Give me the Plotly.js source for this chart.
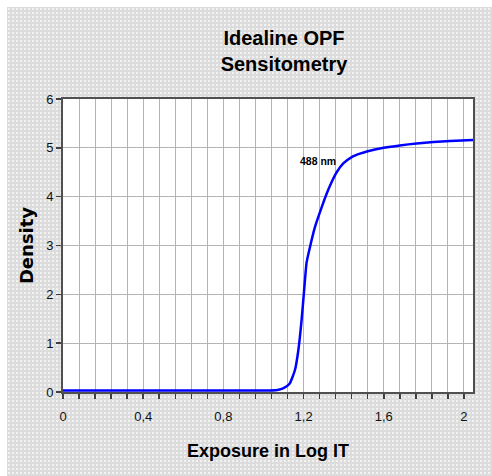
<!DOCTYPE html>
<html>
<head>
<meta charset="utf-8">
<script src="https://cdn.plot.ly/plotly-3.0.1.min.js"></script>
<style>
  html, body { margin:0; padding:0; background:#ffffff; }
  #wrap { position:relative; width:492px; height:476px; }
  #bg { position:absolute; left:7px; top:7px; right:0; bottom:0;
        background-color:#dcdcdc;
        background-image: radial-gradient(#f2f2f2 0.8px, transparent 0.9px);
        background-size:4px 4px; }
  #chart { position:absolute; left:0; top:0; width:492px; height:476px; }
</style>
</head>
<body>
<div id="wrap"><div id="bg"></div><div id="chart"></div></div>
<script>
// Data
const exposure = [0, 0.4, 0.8, 1.0, 1.06, 1.08, 1.10, 1.13, 1.157, 1.174, 1.19, 1.202, 1.215, 1.232, 1.257, 1.29, 1.315, 1.34, 1.365, 1.398, 1.44, 1.481, 1.52, 1.60, 1.68, 1.764, 1.847, 1.93, 2.045];
const density  = [0.03, 0.03, 0.03, 0.03, 0.035, 0.05, 0.08, 0.17, 0.45, 0.86, 1.47, 2.05, 2.65, 2.97, 3.38, 3.78, 4.06, 4.30, 4.50, 4.68, 4.81, 4.88, 4.93, 5.00, 5.05, 5.09, 5.12, 5.14, 5.16];
const seriesLabel = "488 nm";
const titleLines = ["Idealine OPF", "Sensitometry"];
const xTitle = "Exposure in Log IT";
const yTitle = "Density";

const sans = "Liberation Sans, Arial, sans-serif";

const trace = {
  x: exposure, y: density, type: "scatter", mode: "lines",
  line: { color: "#0000ff", width: 2.5, shape: "spline", smoothing: 0.5 },
  hoverinfo: "skip", showlegend: false
};

const layout = {
  width: 492, height: 476,
  margin: { l: 63, r: 19, t: 99, b: 84 },
  paper_bgcolor: "rgba(0,0,0,0)",
  plot_bgcolor: "#ffffff",
  separators: ",.",
  showlegend: false,
  title: {
    text: "<b>" + titleLines.join("<br>") + "</b>",
    font: { family: sans, size: 20, color: "#000000" },
    x: 0.539, xanchor: "center", xref: "paper",
    y: 1 - 45/476, yanchor: "top", yref: "container"
  },
  xaxis: {
    range: [0, 2.045], tick0: 0, dtick: 0.4,
    showgrid: true, gridcolor: "#b4b4b4", gridwidth: 1,
    ticks: "outside", ticklen: 5, tickcolor: "#404040", tickwidth: 1.5,
    minor: { dtick: 0.08, tick0: 0, showgrid: true, gridcolor: "#b4b4b4", gridwidth: 1,
             ticks: "outside", ticklen: 5, tickcolor: "#404040", tickwidth: 1.5 },
    showline: true, linecolor: "#505050", linewidth: 2, mirror: true,
    zeroline: false,
    ticklabelstandoff: 6,
    tickfont: { family: sans, size: 13, color: "#111111" },
    title: { text: "<b>" + xTitle + "</b>", font: { family: sans, size: 18, color: "#000000" }, standoff: 22 }
  },
  yaxis: {
    range: [0, 6], dtick: 1, tick0: 0,
    showgrid: true, gridcolor: "#b4b4b4", gridwidth: 1,
    ticks: "outside", ticklen: 5, tickcolor: "#404040", tickwidth: 1.5,
    showline: true, linecolor: "#505050", linewidth: 2, mirror: true,
    zeroline: false,
    tickfont: { family: sans, size: 13, color: "#111111" },
    title: { text: "<b>" + yTitle + "</b>", font: { family: "DejaVu Sans, sans-serif", size: 18, color: "#000000" }, standoff: 8 }
  },
  annotations: [{
    x: 1.27, y: 4.73, xref: "x", yref: "y", showarrow: false,
    text: "<b>" + seriesLabel + "</b>",
    font: { family: sans, size: 10.5, color: "#000000" }
  }]
};

Plotly.newPlot("chart", [trace], layout, { staticPlot: true, displayModeBar: false });
</script>
</body>
</html>
